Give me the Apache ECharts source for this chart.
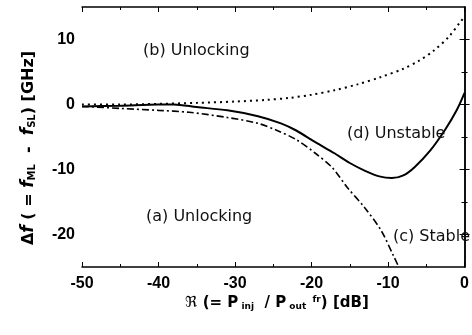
<!DOCTYPE html>
<html>
<head>
<meta charset="utf-8">
<script src="https://cdn.jsdelivr.net/npm/echarts@6/dist/echarts.min.js"></script>
<style>
  html, body { margin: 0; padding: 0; background: #fff; }
  #chart { width: 472px; height: 335px; }
</style>
</head>
<body>
<div id="chart"></div>
<script>
// 曲线数据 [R(dB), Δf(GHz)]
const curveB = [[-50, 0], [-45, 0], [-40, 0.1], [-35, 0.25], [-30, 0.45], [-26, 0.7], [-23, 1.0],
  [-20, 1.5], [-17, 2.2], [-14, 3.1], [-11, 4.2], [-8, 5.5], [-6, 6.7], [-4, 8.3], [-2, 10.5], [-0.5, 12.8], [0, 13.5]];
const curveD = [[-50, -0.3], [-45, -0.2], [-40, 0], [-38, 0], [-35, -0.4], [-31, -0.9], [-27, -1.8],
  [-24, -2.9], [-22, -4.0], [-19.5, -5.8], [-17, -7.5], [-15, -9], [-13, -10.2], [-11, -11.1],
  [-9.5, -11.3], [-8, -10.9], [-6.5, -9.6], [-4.5, -7.1], [-2.5, -3.8], [-1, -0.8], [0, 1.8]];
const curveA = [[-50, -0.3], [-45, -0.6], [-40, -0.9], [-36, -1.2], [-31, -2], [-27, -2.9], [-24.5, -4],
  [-22, -5.4], [-19.5, -7.5], [-17.3, -9.7], [-15.3, -12.8], [-13.1, -15.8], [-10.9, -19.4],
  [-9.2, -23.5], [-8.6, -25]];
const yMajor = [-20, -10, 0, 10];
const yMinor = [-15, -5, 5];

const FONT = "'Liberation Sans', Arial, sans-serif";
const NAMEFONT = "'DejaVu Sans', sans-serif";
const black = '#000';

function yAxisDef(pos, ticks, len, withLine, withLabel) {
  return {
    type: 'value', position: pos, min: -25, max: 15, interval: 5,
    axisLine: { show: withLine, lineStyle: { color: black, width: 1.5 } },
    axisTick: { show: true, inside: true, length: len, customValues: ticks, lineStyle: { color: black, width: 1 } },
    axisLabel: withLabel
      ? { show: true, customValues: yMajor, color: black, fontWeight: 'bold', fontSize: 16, fontFamily: FONT, margin: 7 }
      : { show: false },
    splitLine: { show: false }
  };
}
function xAxisDef(pos, withLabel) {
  return {
    type: 'value', position: pos, min: -50, max: 0, interval: 10,
    axisLine: { show: true, onZero: false, lineStyle: { color: black, width: 1.5 } },
    axisTick: { show: true, inside: true, length: 5, lineStyle: { color: black, width: 1 } },
    minorTick: { show: true, splitNumber: 2, length: 3, lineStyle: { color: black, width: 1 } },
    axisLabel: withLabel
      ? { show: true, color: black, fontWeight: 'bold', fontSize: 16, fontFamily: FONT, margin: 9 }
      : { show: false },
    splitLine: { show: false }
  };
}

const annoFont = "16px 'DejaVu Sans', sans-serif";
function anno(text, x, y) {
  return { type: 'text', x: x, y: y, z: 10, style: { text: text, font: annoFont, fill: '#111', align: 'left', verticalAlign: 'middle' } };
}

const chart = echarts.init(document.getElementById('chart'));
chart.setOption({
  animation: false,
  backgroundColor: '#fff',
  grid: { left: 82, right: 0, top: 7, bottom: 68, containLabel: false },
  xAxis: [xAxisDef('bottom', true), xAxisDef('top', false)],
  yAxis: [
    yAxisDef('left', yMajor, 5, true, true),
    yAxisDef('left', yMinor, 3, false, false),
    yAxisDef('right', yMajor, 5, true, false),
    yAxisDef('right', yMinor, 3, false, false)
  ],
  series: [
    { type: 'line', data: curveB, showSymbol: false, smooth: 0.3, lineStyle: { color: black, width: 2, type: [2, 4] } },
    { type: 'line', data: curveD, showSymbol: false, smooth: 0.3, lineStyle: { color: black, width: 2 } },
    { type: 'line', data: curveA, showSymbol: false, smooth: 0.3, lineStyle: { color: black, width: 1.6, type: [7, 3, 2, 3] } }
  ],
  graphic: [
    anno('(b) Unlocking', 143, 51),
    anno('(a) Unlocking', 146, 217),
    anno('(d) Unstable', 347, 134),
    anno('(c) Stable', 393, 237),
    {
      type: 'text', x: 29, y: 148, rotation: Math.PI / 2, z: 10,
      style: {
        text: '{n|Δ}{i|f}{n| ( = }{i|f}{s|ML}{n|  -  }{i|f}{s|SL}{n|) [GHz]}',
        align: 'center', verticalAlign: 'middle', fill: black,
        rich: {
          n: { fontFamily: NAMEFONT, fontWeight: 'bold', fontSize: 16, lineHeight: 17 },
          i: { fontFamily: NAMEFONT, fontWeight: 'bold', fontStyle: 'italic', fontSize: 17, lineHeight: 17 },
          s: { fontFamily: NAMEFONT, fontWeight: 'bold', fontSize: 10, lineHeight: 4, verticalAlign: 'bottom' }
        }
      }
    },
    {
      type: 'text', x: 277, y: 303, z: 10,
      style: {
        text: '{r|ℜ}{n| (= P}{s| inj}{n|  / P}{s| out}{p|  fr}{n|) [dB]}',
        align: 'center', verticalAlign: 'middle', fill: black,
        rich: {
          r: { fontFamily: NAMEFONT, fontSize: 15, lineHeight: 16 },
          n: { fontFamily: NAMEFONT, fontWeight: 'bold', fontSize: 15, lineHeight: 16 },
          s: { fontFamily: NAMEFONT, fontWeight: 'bold', fontSize: 9, lineHeight: 4, verticalAlign: 'bottom' },
          p: { fontFamily: NAMEFONT, fontWeight: 'bold', fontSize: 9, lineHeight: 4, verticalAlign: 'top' }
        }
      }
    }
  ]
});
</script>
</body>
</html>
